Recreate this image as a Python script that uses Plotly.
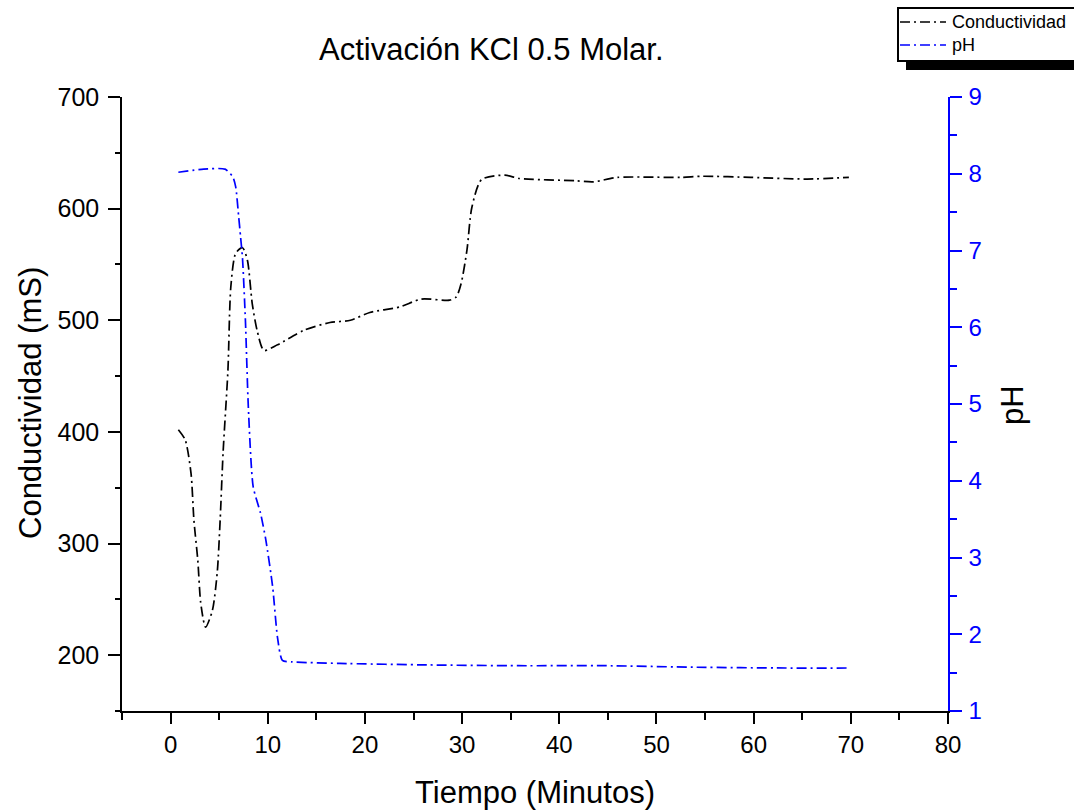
import plotly.graph_objects as go

# Conductivity readings (mS) over time (minutes)
time_cond = [0.8, 1.5, 2.1, 2.4, 2.8, 3.1, 3.6, 4.3, 4.8, 5.1, 5.4, 5.9, 6.2, 6.7,
             7.4, 7.9, 8.4, 8.9, 9.6, 11.0, 13.7, 16.4, 18.5, 20.5, 23.6, 25.8,
             28.7, 29.4, 29.9, 30.5, 31.0, 32.0, 34.4, 35.9, 41.6, 43.5, 46.0,
             52.5, 54.7, 59.7, 65.5, 69.8]
conductividad = [402, 393, 363, 321, 285, 247, 225, 240, 274, 321, 381, 455, 530, 560,
                 565, 554, 515, 491, 473, 478, 491, 498, 500, 507, 512, 519,
                 518, 521, 533, 563, 601, 626, 630, 627, 625, 624, 628,
                 628, 629, 628, 626.5, 628]

# pH readings over time (minutes)
time_ph = [0.8, 3.4, 5.6, 6.4, 6.7, 7.0, 7.2, 7.4, 7.7, 8.0, 8.5, 9.25, 9.8, 10.5,
           11.0, 11.5, 12.5, 17.4, 26.6, 35.8, 44.9, 54.1, 63.3, 69.9]
ph = [8.02, 8.06, 8.06, 7.96, 7.83, 7.45, 7.18, 6.9, 6.09, 4.96, 3.92, 3.58, 3.23, 2.62,
      1.96, 1.66, 1.64, 1.62, 1.60, 1.59, 1.59, 1.57, 1.56, 1.56]

x_ticks = [0, 10, 20, 30, 40, 50, 60, 70, 80]
y_ticks = [200, 300, 400, 500, 600, 700]
ph_ticks = [1, 2, 3, 4, 5, 6, 7, 8, 9]

series_names = ["Conductividad", "pH"]
series_colors = ["black", "blue"]

FONT = "Liberation Sans, Arial, sans-serif"
DASH = "10px,4px,2px,4px"

fig = go.Figure()
fig.add_trace(go.Scatter(
    x=time_cond, y=conductividad, name=series_names[0], mode="lines",
    line=dict(color=series_colors[0], width=1.7, dash=DASH, shape="spline", smoothing=0.7),
    xaxis="x", yaxis="y",
))
fig.add_trace(go.Scatter(
    x=time_ph, y=ph, name=series_names[1], mode="lines",
    line=dict(color=series_colors[1], width=1.7, dash=DASH, shape="spline", smoothing=0.6),
    xaxis="x", yaxis="y2",
))

L, R, T, B = 122, 126, 97, 99
W, H = 1074, 810
pw, plot_h = W - L - R, H - T - B


def px_x(px):
    return (px - L) / pw


def px_y(py):
    return (H - B - py) / plot_h


fig.update_layout(
    width=W, height=H,
    margin=dict(l=L, r=R, t=T, b=B, autoexpand=False),
    paper_bgcolor="white", plot_bgcolor="white",
    font=dict(family=FONT, size=24, color="black"),
    showlegend=False,
    xaxis=dict(
        range=[-5, 80], tickvals=x_ticks, ticks="outside", ticklen=11, tickwidth=1.5,
        tickcolor="black", showline=True, linecolor="black", linewidth=1.5,
        showgrid=False, zeroline=False,
        minor=dict(dtick=5, ticks="outside", ticklen=7, tickwidth=1.5, tickcolor="black"),
        tickfont=dict(size=24, color="black"),
    ),
    xaxis2=dict(
        range=[-5, 80], overlaying="x", side="top", anchor="y",
        tickvals=x_ticks, ticks="inside", ticklen=11, tickwidth=1.5, tickcolor="blue",
        showline=True, linecolor="blue", linewidth=1.5, showticklabels=False,
        showgrid=False, zeroline=False,
        minor=dict(dtick=5, ticks="inside", ticklen=7, tickwidth=1.5, tickcolor="blue"),
    ),
    yaxis=dict(
        range=[150, 700], tickvals=y_ticks, ticks="outside", ticklen=12, tickwidth=1.5,
        tickcolor="black", showline=True, linecolor="black", linewidth=1.5,
        showgrid=False, zeroline=False,
        minor=dict(dtick=50, ticks="outside", ticklen=5, tickwidth=1.5, tickcolor="black"),
        tickfont=dict(size=25, color="black"), ticklabelstandoff=4,
    ),
    yaxis2=dict(
        range=[1, 9], tickvals=ph_ticks, overlaying="y", side="right", anchor="x",
        ticks="outside", ticklen=12, tickwidth=1.5, tickcolor="blue",
        showline=True, linecolor="blue", linewidth=1.5,
        showgrid=False, zeroline=False,
        minor=dict(dtick=0.5, ticks="outside", ticklen=7, tickwidth=1.5, tickcolor="blue"),
        tickfont=dict(size=24, color="blue"), ticklabelstandoff=2,
    ),
)

# titles
fig.add_annotation(text="Activación KCl 0.5 Molar.", xref="paper", yref="paper",
                   x=px_x(491), y=px_y(50), xanchor="center", yanchor="middle",
                   showarrow=False, font=dict(size=31, color="black"))
fig.add_annotation(text="Tiempo (Minutos)", xref="paper", yref="paper",
                   x=px_x(535), y=px_y(792), xanchor="center", yanchor="middle",
                   showarrow=False, font=dict(size=31, color="black"))
fig.add_annotation(text="Conductividad (mS)", xref="paper", yref="paper",
                   x=px_x(30), y=px_y(403), xanchor="center", yanchor="middle",
                   textangle=-90, showarrow=False, font=dict(size=31, color="black"))
fig.add_annotation(text="pH", xref="paper", yref="paper",
                   x=px_x(1012), y=px_y(405), xanchor="center", yanchor="middle",
                   textangle=-90, showarrow=False, font=dict(size=31, color="black"))

# legend box: drop shadow, framed white box, line samples and labels
fig.add_shape(type="rect", xref="paper", yref="paper",
              x0=px_x(906), x1=px_x(1080), y0=px_y(70), y1=px_y(61),
              fillcolor="black", line=dict(width=0))
fig.add_shape(type="rect", xref="paper", yref="paper",
              x0=px_x(898), x1=px_x(1080), y0=px_y(61), y1=px_y(8),
              fillcolor="white", line=dict(color="black", width=2))
for i, (name, color) in enumerate(zip(series_names, series_colors)):
    yc = 22 + 23 * i
    fig.add_shape(type="line", xref="paper", yref="paper",
                  x0=px_x(900), x1=px_x(946), y0=px_y(yc), y1=px_y(yc),
                  line=dict(color=color, width=1.7, dash=DASH))
    fig.add_annotation(text=name, xref="paper", yref="paper",
                       x=px_x(950), y=px_y(yc), xanchor="left", yanchor="middle",
                       showarrow=False, font=dict(size=18, color="black"))

fig.write_html("out.html")
